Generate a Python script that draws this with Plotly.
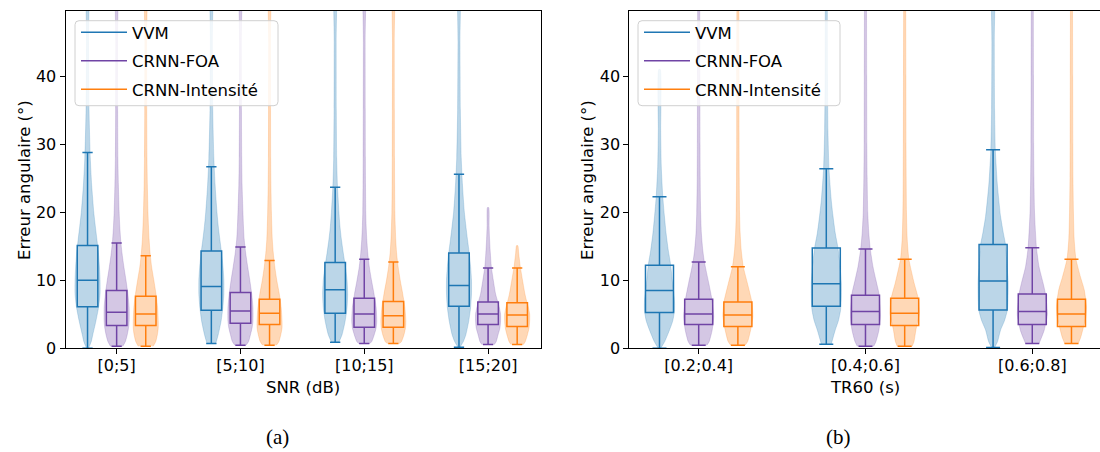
import plotly.graph_objects as go

# ---------------- data ----------------
METHODS = ["VVM", "CRNN-FOA", "CRNN-Intensité"]
SNR_CATS = ["[0;5]", "[5;10]", "[10;15]", "[15;20]"]
TR_CATS = ["[0.2;0.4]", "[0.4;0.6]", "[0.6;0.8]"]

# box statistics per panel: [method][group] -> (lower whisker, q1, median, q3, upper whisker)
SNR_BOX = {
    "VVM": [(0.0, 6.1, 10.0, 15.1, 28.8), (0.7, 5.6, 9.1, 14.3, 26.7),
            (0.9, 5.15, 8.6, 12.6, 23.7), (0.15, 6.2, 9.25, 14.0, 25.6)],
    "CRNN-FOA": [(0.3, 3.35, 5.3, 8.5, 15.5), (0.45, 3.7, 5.5, 8.2, 14.9),
                 (0.7, 3.1, 5.05, 7.35, 13.1), (0.55, 3.5, 5.05, 6.8, 11.8)],
    "CRNN-Intensité": [(0.3, 3.35, 5.05, 7.65, 13.6), (0.45, 3.5, 5.15, 7.2, 12.9),
                       (0.7, 3.1, 4.8, 6.9, 12.7), (0.55, 3.2, 4.9, 6.7, 11.8)],
}
TR_BOX = {
    "VVM": [(0.0, 5.25, 8.5, 12.2, 22.3), (0.6, 6.2, 9.5, 14.75, 26.4),
            (0.1, 5.65, 9.9, 15.25, 29.2)],
    "CRNN-FOA": [(0.45, 3.5, 5.05, 7.2, 12.7), (0.3, 3.5, 5.4, 7.8, 14.6),
                 (0.7, 3.5, 5.4, 8.0, 14.8)],
    "CRNN-Intensité": [(0.45, 3.2, 4.9, 6.8, 12.0), (0.3, 3.35, 5.15, 7.35, 13.1),
                       (0.7, 3.2, 5.05, 7.2, 13.1)],
}

# violin profiles: (angle values, relative width 0..1)
SNR_VIOLIN = {
    "VVM": [
        ([0, 1, 2, 4, 6, 8, 10, 12, 14, 16, 18, 20, 24, 28, 35, 45, 60],
         [.08, .3, .42, .67, .88, 1, 1, .95, .87, .75, .62, .5, .33, .22, .12, .08, .07]),
        ([0.7, 2, 4, 6, 8, 10, 12, 14, 16, 18, 20, 24, 28, 35, 45, 60],
         [.35, .55, .78, .92, 1, 1, .93, .82, .68, .55, .45, .3, .2, .11, .08, .07]),
        ([0.9, 2, 4, 6, 8, 10, 12, 14, 16, 18, 20, 24, 28, 35, 45, 60],
         [.3, .55, .8, .95, 1, .95, .82, .65, .5, .38, .3, .18, .12, .09, .08, .07]),
        ([0.15, 1, 2, 4, 6, 8, 10, 12, 14, 16, 18, 20, 24, 28, 35, 45, 60],
         [.08, .35, .55, .78, .93, 1, 1, .93, .82, .68, .55, .43, .28, .18, .11, .08, .07]),
    ],
    "CRNN-FOA": [
        ([0.3, 1, 2, 3, 4, 6, 8, 10, 12, 14, 16, 18, 20, 24, 28, 35, 45, 60],
         [.5, .7, .85, .95, 1, 1, .9, .75, .58, .43, .32, .25, .2, .14, .1, .08, .07, .07]),
        ([0.45, 1, 2, 3, 4, 6, 8, 10, 12, 14, 16, 18, 20, 24, 28, 35, 45, 60],
         [.45, .65, .8, .93, 1, 1, .9, .75, .58, .42, .3, .24, .2, .13, .1, .08, .07, .07]),
        ([0.7, 1, 2, 3, 4, 6, 8, 10, 12, 14, 16, 18, 20, 24, 28, 35, 45, 60],
         [.45, .6, .8, .95, 1, .95, .78, .58, .4, .28, .2, .15, .12, .1, .09, .08, .07, .07]),
        ([0.55, 1, 2, 3, 4, 5, 6, 7, 8, 10, 12, 14, 16, 18, 20.7],
         [.5, .65, .8, .95, 1, 1, .9, .75, .6, .42, .26, .18, .12, .08, .05]),
    ],
    "CRNN-Intensité": [
        ([0.3, 1, 2, 3, 4, 6, 8, 10, 12, 14, 16, 18, 20, 24, 28, 35, 45, 60],
         [.6, .8, .93, 1, 1, .95, .82, .65, .47, .35, .27, .22, .18, .13, .1, .08, .07, .07]),
        ([0.45, 1, 2, 3, 4, 6, 8, 10, 12, 14, 16, 18, 20, 24, 28, 35, 45, 60],
         [.55, .75, .9, 1, 1, .93, .78, .58, .42, .3, .22, .18, .15, .11, .09, .08, .07, .07]),
        ([0.7, 1, 2, 3, 4, 6, 8, 10, 12, 14, 16, 18, 20, 24, 28, 35, 45, 60],
         [.5, .65, .85, .97, 1, .92, .75, .55, .38, .26, .19, .15, .12, .1, .09, .08, .07, .07]),
        ([0.55, 1, 2, 3, 4, 5, 6, 7, 8, 10, 12, 14, 15.1],
         [.5, .65, .82, .95, 1, 1, .9, .75, .62, .43, .25, .12, .05]),
    ],
}
TR_VIOLIN = {
    "VVM": [
        ([0, 1, 2.7, 4, 5.5, 7, 8.6, 10, 12.2, 14.5, 16.9, 19.4, 22.3, 26.7, 32, 41],
         [.08, .35, .67, .88, 1, 1, .93, .85, .75, .58, .44, .33, .22, .12, .08, .05]),
        ([0.6, 2.7, 4, 5.6, 7.6, 9.6, 12, 14.75, 16.9, 19.4, 21.8, 26.4, 32, 40, 50, 60],
         [.33, .6, .8, .95, 1, 1, .92, .78, .6, .45, .33, .18, .11, .08, .07, .07]),
        ([0.1, 1, 2.7, 4, 5.6, 8.1, 9.9, 12, 15.25, 17, 19.4, 24.2, 29.2, 35, 45, 60],
         [.1, .3, .5, .75, .95, 1, 1, .93, .83, .68, .5, .28, .15, .1, .08, .07]),
    ],
    "CRNN-FOA": [
        ([0.45, 1, 2.7, 4.7, 7.2, 9.6, 12.7, 14.5, 16.9, 20, 25, 30, 40, 50, 60],
         [.55, .7, .9, 1, .88, .67, .38, .27, .18, .13, .1, .09, .08, .07, .07]),
        ([0.3, 1, 2.7, 4.7, 7.8, 10, 12, 14.6, 17, 20, 25, 30, 40, 50, 60],
         [.55, .7, .9, 1, .92, .7, .5, .32, .22, .15, .11, .09, .08, .07, .07]),
        ([0.7, 1.5, 2.7, 5, 8, 9.6, 12, 14.8, 20, 25, 30, 40, 50, 60],
         [.45, .6, .8, 1, .88, .72, .45, .28, .15, .11, .09, .08, .07, .07]),
    ],
    "CRNN-Intensité": [
        ([0.45, 1, 2.7, 4.7, 6.8, 9.6, 12, 14.5, 17, 20, 25, 30, 40, 50, 60],
         [.48, .65, .85, 1, .93, .63, .36, .22, .15, .11, .09, .08, .08, .07, .07]),
        ([0.3, 1, 2.7, 5.1, 7.35, 9.6, 13.1, 16, 20, 25, 30, 40, 50, 60],
         [.5, .62, .75, .97, .9, .63, .28, .17, .12, .1, .09, .08, .07, .07]),
        ([0.7, 1.5, 2.7, 4.5, 6.1, 8.6, 10.5, 13.1, 16, 20, 25, 30, 40, 50, 60],
         [.45, .6, .75, .95, 1, .85, .6, .3, .18, .13, .1, .09, .08, .07, .07]),
    ],
}

Y_TICKS = [0, 10, 20, 30, 40]
Y_MAX = 49.6

# ---------------- styles ----------------
COLORS = {"VVM": (31, 119, 180), "CRNN-FOA": (112, 68, 165), "CRNN-Intensité": (255, 127, 14)}
OFFSETS = {"VVM": -0.235, "CRNN-FOA": 0.0, "CRNN-Intensité": 0.235}
FONT = "DejaVu Sans"
W, H = 1100, 452


def rgba(c, a):
    return f"rgba({c[0]},{c[1]},{c[2]},{a})"


def hexc(c):
    return "#%02x%02x%02x" % c


fig = go.Figure()


def add_panel(boxes, violins, ncat, xa, ya, vhalf, bwidth, legend):
    xref = "x" if xa == "xaxis" else "x" + xa[5:]
    yref = "y" if ya == "yaxis" else "y" + ya[5:]
    for m in METHODS:
        col = COLORS[m]
        for g in range(ncat):
            c = g + OFFSETS[m]
            ys, ws = violins[m][g]
            xs_r = [c + w * vhalf for w in ws]
            xs_l = [c - w * vhalf for w in ws[::-1]]
            fig.add_trace(go.Scatter(
                x=xs_r + xs_l, y=list(ys) + list(ys[::-1]),
                mode="lines", fill="toself", fillcolor=rgba(col, 0.3),
                line=dict(color=rgba(col, 0.25), width=0.8, shape="spline", smoothing=0.6),
                hoverinfo="skip", showlegend=False, xaxis=xref, yaxis=yref))
        for g in range(ncat):
            lo, q1, med, q3, hi = boxes[m][g]
            fig.add_trace(go.Box(
                x=[g + OFFSETS[m]], q1=[q1], median=[med], q3=[q3],
                lowerfence=[lo], upperfence=[hi], width=bwidth, whiskerwidth=0.5,
                boxpoints=False, fillcolor="rgba(0,0,0,0)",
                line=dict(color=hexc(col), width=1.5),
                showlegend=False, xaxis=xref, yaxis=yref))
    for i, m in enumerate(METHODS):
        fig.add_trace(go.Scatter(
            x=[None], y=[None], mode="lines", name=m,
            line=dict(color=hexc(COLORS[m]), width=1.5),
            legend=legend, legendgroup=legend + str(i), xaxis=xref, yaxis=yref))


add_panel(SNR_BOX, SNR_VIOLIN, len(SNR_CATS), "xaxis", "yaxis", 0.101, 0.166, "legend")
add_panel(TR_BOX, TR_VIOLIN, len(TR_CATS), "xaxis2", "yaxis2", 0.09, 0.168, "legend2")

Y0 = 1 - 348.3 / H
Y1 = 1 - 11 / H
axis_common = dict(showline=True, linecolor="black", linewidth=1, mirror=True,
                   ticks="outside", ticklen=5, tickcolor="black", showgrid=False,
                   zeroline=False, tickfont=dict(family=FONT, size=16, color="black"),
                   automargin=False)

leg_common = dict(xanchor="left", yanchor="top", bgcolor="rgba(0,0,0,0)", borderwidth=0,
                  tracegroupgap=4, itemwidth=46,
                  font=dict(family=FONT, size=16.5, color="black"))

fig.update_layout(
    width=W, height=H, margin=dict(l=0, r=0, t=0, b=0),
    paper_bgcolor="white", plot_bgcolor="white", boxmode="overlay",
    xaxis=dict(domain=[65.5 / W, 540.7 / W], range=[-0.413, 3.425],
               tickvals=list(range(len(SNR_CATS))), ticktext=SNR_CATS, anchor="y", **axis_common),
    yaxis=dict(domain=[Y0, Y1], range=[0, Y_MAX], tickvals=Y_TICKS, anchor="x", **axis_common),
    xaxis2=dict(domain=[629.3 / W, 1.0], range=[-0.416, 2.406],
                tickvals=list(range(len(TR_CATS))), ticktext=TR_CATS, anchor="y2", **axis_common),
    yaxis2=dict(domain=[Y0, Y1], range=[0, Y_MAX], tickvals=Y_TICKS, anchor="x2", **axis_common),
    legend=dict(x=76 / W, y=1 - 15 / H, **leg_common),
    legend2=dict(x=639 / W, y=1 - 15 / H, **leg_common),
)
fig.update_xaxes(ticklabelstandoff=-3)


# legend frames (rounded rectangle)
def frame(x0, y0, x1, y1, r=4):
    X = lambda v: v / W
    Y = lambda v: 1 - v / H
    p = (f"M {X(x0 + r)},{Y(y0)} L {X(x1 - r)},{Y(y0)} Q {X(x1)},{Y(y0)} {X(x1)},{Y(y0 + r)} "
         f"L {X(x1)},{Y(y1 - r)} Q {X(x1)},{Y(y1)} {X(x1 - r)},{Y(y1)} "
         f"L {X(x0 + r)},{Y(y1)} Q {X(x0)},{Y(y1)} {X(x0)},{Y(y1 - r)} "
         f"L {X(x0)},{Y(y0 + r)} Q {X(x0)},{Y(y0)} {X(x0 + r)},{Y(y0)} Z")
    return dict(type="path", xref="paper", yref="paper", path=p,
                line=dict(color="#d0d0d0", width=1), fillcolor="rgba(255,255,255,0.8)", layer="above")


fig.add_shape(**frame(75, 20.7, 278, 105.7))
fig.add_shape(**frame(638, 20.7, 840, 105.7))

ann_font = dict(family=FONT, size=16.5, color="black")
annotations = [
    dict(text="Erreur angulaire (°)", x=25 / W, y=1 - 180 / H, textangle=-90, font=ann_font),
    dict(text="Erreur angulaire (°)", x=588 / W, y=1 - 180 / H, textangle=-90, font=ann_font),
    dict(text="SNR (dB)", x=303 / W, y=1 - 387 / H, font=ann_font),
    dict(text="TR60 (s)", x=865 / W, y=1 - 387 / H, font=ann_font),
    dict(text="(a)", x=277 / W, y=1 - 437 / H, font=dict(family="Liberation Serif", size=21, color="black")),
    dict(text="(b)", x=838 / W, y=1 - 437 / H, font=dict(family="Liberation Serif", size=21, color="black")),
]
for a in annotations:
    fig.add_annotation(xref="paper", yref="paper", showarrow=False, xanchor="center",
                       yanchor="middle", **a)

fig.write_html("out.html")
